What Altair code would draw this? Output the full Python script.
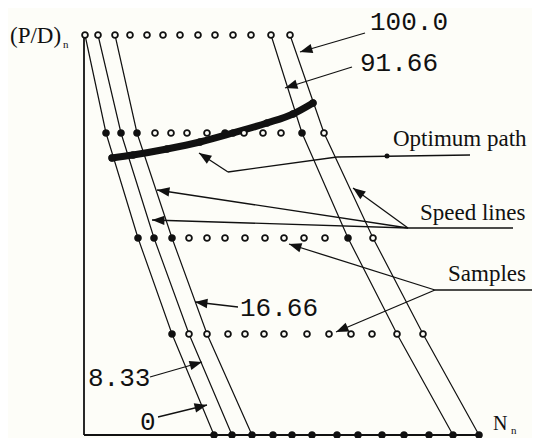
import math
import altair as alt
import pandas as pd

# ---- data (chart units = picture coordinates) ----
speeds = ["0", "8.33", "16.66", "25", "33.33", "41.66", "50", "58.33",
          "66.66", "75", "83.33", "91.66", "100.0"]
row_level = [35, 133, 238, 334, 435]          # P/D sample levels (vertical)
row0_x = [85, 98, 115, 130, 147, 163, 180, 198, 215, 233, 251, 271, 290]
row1_x = [106, 121, 137, 155, 171, 187, 207, 225, 244, 263, 281, 302, 324]
row2_x = [138, 154, 172, 189, 207, 225, 245, 265, 284, 304, 325, 348, 373]
row3_x = [172, 189, 207, 228, 245, 264, 284, 307, 329, 351, 372, 397, 423]
row4_x = [214, 232, 252, 273, 292, 312, 337, 358, 382, 404, 429, 453, 479]
rows_x = [row0_x, row1_x, row2_x, row3_x, row4_x]
drawn_speed_lines = [0, 1, 2, 11, 12]
filled_samples = {1: [0, 1, 2, 7, 11], 2: [0, 1, 2, 11], 3: [0], 4: list(range(13))}

path_x = [112, 133, 167, 200, 233, 267, 293, 313]
path_y = [158, 155, 149, 142, 133, 123, 114, 103]

axis_x0, axis_y0, axis_x1, axis_y1 = 84, 435, 479, 35

leaders = [
    [(365, 33), (300, 52)],
    [(352, 67), (285, 88)],
    [(470, 155), (337, 157), (228, 172), (199, 153)],
    [(513, 228), (408, 228), (353, 188)],
    [(408, 228), (157, 190)],
    [(408, 228), (152, 220)],
    [(540, 290), (435, 290), (336, 332)],
    [(435, 290), (289, 244)],
    [(238, 307), (195, 302)],
    [(150, 377), (202, 362)],
    [(158, 417), (207, 405)],
]
leader_dots = [(387, 156)]

mono_labels = ["100.0", "91.66", "16.66", "8.33", "0"]
mono_x = [370, 360, 240, 88, 140]
mono_y = [22, 63, 308, 378, 422]
serif_labels = ["Optimum path", "Speed lines", "Samples", "(P/D)", "N"]
serif_x = [393, 420, 448, 10, 493]
serif_y = [139, 213, 274, 36, 424]
serif_size = [23, 23, 23, 23, 20]
sub_labels = ["n", "n"]
sub_x = [63, 511]
sub_y = [45, 431]

# ---- tables ----
samples = []
for r, (lvl, xs) in enumerate(zip(row_level, rows_x)):
    for c, x in enumerate(xs):
        samples.append({"x": x, "y": lvl, "speed": speeds[c], "col": c,
                        "filled": "y" if c in filled_samples.get(r, []) else "n"})
samples = pd.DataFrame(samples)
speed_lines = samples[samples["col"].isin(drawn_speed_lines)].copy()

axes = pd.DataFrame([
    {"x": axis_x0, "y": axis_y0, "x2": axis_x1, "y2": axis_y0},
    {"x": axis_x0, "y": axis_y1, "x2": axis_x0, "y2": axis_y0},
])

segs, heads = [], []
for pts in leaders:
    for (a, b) in zip(pts[:-1], pts[1:]):
        segs.append({"x": a[0], "y": a[1], "x2": b[0], "y2": b[1]})
    (tx, ty), (hx, hy) = pts[-2], pts[-1]
    ang = math.degrees(math.atan2(hx - tx, -(hy - ty))) % 360
    heads.append({"x": hx, "y": hy, "angle": ang})
segs = pd.DataFrame(segs)
heads = pd.DataFrame(heads)
dots = pd.DataFrame([{"x": d[0], "y": d[1]} for d in leader_dots])
path = pd.DataFrame({"x": path_x, "y": path_y, "o": range(len(path_x))})
mono = pd.DataFrame({"t": mono_labels, "x": mono_x, "y": mono_y})
serif = pd.DataFrame({"t": serif_labels, "x": serif_x, "y": serif_y, "s": serif_size})
subs = pd.DataFrame({"t": sub_labels, "x": sub_x, "y": sub_y})

W, H = 524, 430
xs = alt.Scale(domain=[8, 8 + W], nice=False, zero=False)
ys = alt.Scale(domain=[8, 8 + H], nice=False, zero=False, reverse=True)
X = lambda f="x": alt.X(f, type="quantitative", scale=xs, axis=None)
Y = lambda f="y": alt.Y(f, type="quantitative", scale=ys, axis=None)

ink = "#111111"

lines_l = alt.Chart(speed_lines).mark_line(color=ink, strokeWidth=1.2).encode(
    x=X(), y=Y(), detail="col:N", order="y:Q")
axes_l = alt.Chart(axes).mark_rule(color=ink, strokeWidth=1.8).encode(
    x=X(), y=Y(), x2="x2", y2="y2")
pts_l = alt.Chart(samples).mark_point(size=34, strokeWidth=1.8, filled=False, opacity=1).encode(
    x=X(), y=Y(),
    fill=alt.Fill("filled:N", scale=alt.Scale(domain=["y", "n"], range=[ink, "#fdfdf8"]), legend=None),
    stroke=alt.value(ink))
path_l = alt.Chart(path).mark_line(color=ink, strokeWidth=7, strokeCap="round",
                                   strokeJoin="round", interpolate="monotone").encode(
    x=X(), y=Y(), order="o:Q")
path_pts = alt.Chart(path).mark_circle(color=ink, size=55, opacity=1).encode(x=X(), y=Y())
segs_l = alt.Chart(segs).mark_rule(color=ink, strokeWidth=1.3).encode(
    x=X(), y=Y(), x2="x2", y2="y2")
heads_l = alt.Chart(heads).mark_point(shape="M0,0L-0.38,1L0.38,1Z", size=620, filled=True,
                                      color=ink, opacity=1).encode(
    x=X(), y=Y(), angle=alt.Angle("angle:Q", scale=None))
dots_l = alt.Chart(dots).mark_circle(color=ink, size=25, opacity=1).encode(x=X(), y=Y())
mono_l = alt.Chart(mono).mark_text(font="Liberation Mono", fontSize=26, align="left",
                                   baseline="middle", color=ink).encode(x=X(), y=Y(), text="t:N")
serif_l = alt.Chart(serif).mark_text(font="Liberation Serif", align="left",
                                     baseline="middle", color=ink).encode(
    x=X(), y=Y(), text="t:N", size=alt.Size("s:Q", scale=None, legend=None))
sub_l = alt.Chart(subs).mark_text(font="Liberation Serif", fontSize=11, align="left",
                                  baseline="middle", color=ink).encode(x=X(), y=Y(), text="t:N")

chart = alt.layer(lines_l, axes_l, path_l, path_pts, pts_l, segs_l, heads_l, dots_l,
                  mono_l, serif_l, sub_l).properties(
    width=W, height=H, padding=0, autosize=alt.AutoSizeParams(type="none"),
    background="#fdfdf8"
).configure_view(stroke=None)

chart.save("out.html", embed_options={"renderer": "svg", "actions": False})
